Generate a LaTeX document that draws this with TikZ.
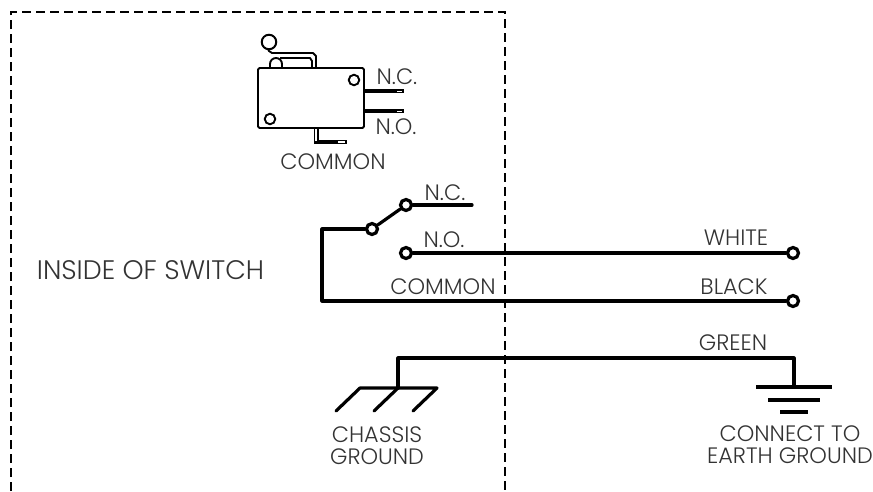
\documentclass[tikz,border=0pt]{standalone}
\usepackage{fontspec}
\setmainfont{Poppins Light}
\tikzset{
  wire/.style={line width=3.2pt,line join=round,line cap=round},
  thinwire/.style={line width=1.9pt,line join=round},
  term/.style={circle,draw,line width=3.2pt,fill=white,minimum size=11pt,inner sep=0pt},
  hole/.style={circle,draw,line width=1.9pt,fill=white,minimum size=10.5pt,inner sep=0pt},
  lbl/.style={text=black!80,font=\fontsize{22.3}{24}\selectfont,inner sep=0pt,align=center},
}
\begin{document}
\begin{tikzpicture}[x=1pt,y=-1pt]
        \useasboundingbox (0,0) rectangle (873,491);

        % Switch outline
        \draw[line width=1.5pt,dash pattern=on 9pt off 5pt] (11,491) -- (11,12) -- (505,12) -- (505,491);
        \node[lbl,font=\fontsize{26.8}{28}\selectfont] (inside) at (150.5,270) {INSIDE OF SWITCH};

        % Microswitch
        \draw[thinwire] (270,68) -- (270,64) arc (180:360:6) -- (282,68);
        \draw[thinwire] (267,47) -- (269,51) -- (272,53) -- (313,53) -- (316,56) -- (316,68);
        \draw[thinwire] (280,58) -- (310,58) -- (312,61) -- (312,68);
        \node[circle,draw,line width=2pt,fill=white,minimum size=14.5pt,inner sep=0pt] (roller) at (269,42) {};
        \draw[thinwire,rounded corners=1.5pt,fill=white] (258,68) rectangle (364,128);
        \node[hole] (holeA) at (354,80) {};
        \node[hole] (holeB) at (270,119) {};
        \draw[line width=1.2pt] (364,90) -- (403,90) -- (403,92.5) -- (364,92.5);
        \draw[line width=2.6pt] (364,91.2) -- (397,91.2);
        \draw[line width=1.2pt] (364,110) -- (403,110) -- (403,112.5) -- (364,112.5);
        \draw[line width=2.6pt] (364,111.2) -- (397,111.2);
        \draw[line width=1.3pt] (314.5,128) -- (314.5,143.5) -- (346,143.5) -- (346,140.5) -- (318,140.5) -- (318,128);
        \draw[line width=2.4pt] (338,142) -- (314.5,142);
        \node[lbl] (microNC) at (397,77) {N.C.};
        \node[lbl] (microNO) at (396,127) {N.O.};
        \node[lbl] (microCOM) at (333,162) {COMMON};

        % Schematic
        \node[term] (tNC) at (406,205) {};
        \node[term] (tPivot) at (372,229) {};
        \node[term] (tNO) at (406,253) {};
        \node[term] (tWhite) at (793,253) {};
        \node[term] (tBlack) at (793,301) {};
        \coordinate (endNC) at (472,205);
        \coordinate (cornerA) at (322,229);
        \coordinate (cornerB) at (322,301);
        \draw[wire] (tNC) -- (endNC);
        \draw[wire] (tPivot) -- (tNC);
        \draw[wire] (tPivot) -- (cornerA) -- (cornerB) -- (tBlack);
        \draw[wire] (tNO) -- (tWhite);
        \node[lbl] (schemNC) at (445,193) {N.C.};
        \node[lbl] (schemNO) at (444,240) {N.O.};
        \node[lbl] (schemCOM) at (443,287) {COMMON};
        \node[lbl] (white) at (736,238) {WHITE};
        \node[lbl] (black) at (734,287) {BLACK};
        \node[lbl] (green) at (733,343) {GREEN};

        % Chassis ground
        \coordinate (chassis) at (398,388);
        \coordinate (earth) at (794,387);
        \coordinate (cornerC) at (398,358);
        \coordinate (cornerD) at (794,358);
        \draw[wire] (chassis) -- (cornerC) -- (cornerD) -- (earth);
        \draw[wire] (336,411) -- (360,388) -- (437,388) -- (413,411);
        \draw[wire] (chassis) -- (374,411);
        \node[lbl] (chassisLbl) at (377,446) {CHASSIS\\[-2pt]GROUND};

        % Earth ground
        \draw[wire,line cap=butt] (756,387) -- (832,387);
        \draw[wire,line cap=butt] (768,400) -- (820,400);
        \draw[wire,line cap=butt] (780,412) -- (808,412);
        \node[lbl] (earthLbl) at (790,445) {CONNECT TO\\[-2pt]EARTH GROUND};
      \end{tikzpicture}
\end{document}
